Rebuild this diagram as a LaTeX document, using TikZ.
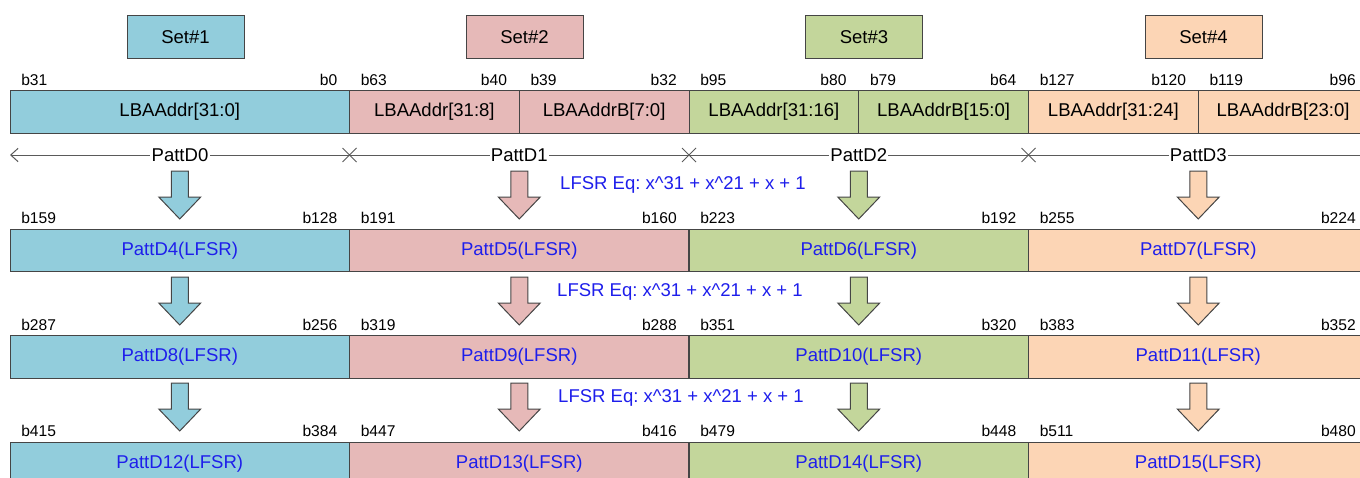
\documentclass[tikz,border=0pt]{standalone}
\usepackage{fontspec}
\setmainfont{Liberation Sans}
\usetikzlibrary{arrows.meta}
\definecolor{cblue}{HTML}{92CDDC}
\definecolor{cpink}{HTML}{E6B9B8}
\definecolor{cgreen}{HTML}{C3D69B}
\definecolor{corange}{HTML}{FCD5B5}
\definecolor{edgec}{HTML}{454545}
\definecolor{dimc}{HTML}{5A5A5A}
\definecolor{ltext}{RGB}{30,30,235}
\newcommand\mainfs{\fontsize{13.9pt}{16pt}\selectfont}
\newcommand\lblfs{\fontsize{11.7pt}{14pt}\selectfont}
\newcommand\blockarrow[3]{%
  \draw[arrowshape, fill=#3] (#1-8.5,#2) -- (#1+8.5,#2) -- (#1+8.5,#2+26) -- (#1+21,#2+26)
    -- (#1,#2+48) -- (#1-21,#2+26) -- (#1-8.5,#2+26) -- cycle;}
\frenchspacing
\begin{document}
\begin{tikzpicture}[x=0.75pt,y=-0.75pt,
  cellbox/.style={draw=edgec, line width=0.75pt, fill=#1, minimum height=31.9pt,
    minimum width=254.6pt, inner sep=0pt, outer sep=0pt, font=\mainfs},
  halfbox/.style={cellbox=#1, minimum width=127.3pt},
  setbox/.style={draw=edgec, line width=0.75pt, fill=#1, minimum height=32.25pt,
    minimum width=87.75pt, inner sep=0pt, font=\mainfs},
  bitlbl/.style={font=\lblfs, inner sep=0pt, text=black},
  arrowshape/.style={draw=edgec, line width=0.75pt, line join=miter},
  dimline/.style={draw=dimc, line width=0.75pt},
  dimlbl/.style={font=\mainfs, fill=white, inner sep=1pt, text=black},
  eqlbl/.style={font=\mainfs, text=ltext, inner sep=0pt}]
\useasboundingbox (0,0) rectangle (1360,478);
\clip (0,0) rectangle (1360,478);

% Set boxes
\node[setbox=cblue]   (s1) at (185.5,37.5)  {Set\#1};
\node[setbox=cpink]   (s2) at (524.5,37.5)  {Set\#2};
\node[setbox=cgreen]  (s3) at (864,37.5)    {Set\#3};
\node[setbox=corange] (s4) at (1203.5,37.5) {Set\#4};

% Top row
\node[cellbox=cblue]   (t1)  at (179.75,112)  {LBAAddr[31:0]};
\node[halfbox=cpink]   (t2a) at (434.375,112) {LBAAddr[31:8]};
\node[halfbox=cpink]   (t2b) at (604.125,112) {LBAAddrB[7:0]};
\node[halfbox=cgreen]  (t3a) at (773.875,112) {LBAAddr[31:16]};
\node[halfbox=cgreen]  (t3b) at (943.625,112) {LBAAddrB[15:0]};
\node[halfbox=corange] (t4a) at (1113.375,112) {LBAAddr[31:24]};
\node[halfbox=corange] (t4b) at (1283.125,112) {LBAAddrB[23:0]};

% Top row bit labels
\foreach \n/\x in {b31/21, b63/360.5, b39/530.25, b95/700, b79/869.75, b127/1039.5, b119/1209.25}
  \node[bitlbl, anchor=west] (l\n) at (\x,80) {\n};
\foreach \n/\x in {b0/337.5, b40/507.25, b32/677, b80/846.75, b64/1016.5, b120/1186.25, b96/1356}
  \node[bitlbl, anchor=east] (l\n) at (\x,80) {\n};

% Dimension line
\coordinate (dL) at (10,155);
\coordinate (dX1) at (349.5,155);
\coordinate (dX2) at (689,155);
\coordinate (dX3) at (1028.5,155);
\coordinate (dR) at (1380,155);
\draw[dimline, {Straight Barb[length=5.5pt,width=10pt]}-] (dL) -- (dR);
\foreach \p in {dX1,dX2,dX3}
  \draw[dimline] (\p) +(-7,-7) -- +(7,7) (\p) +(-7,7) -- +(7,-7);
\node[dimlbl] (pd0) at (180,155) {PattD0};
\node[dimlbl] (pd1) at (519.25,155) {PattD1};
\node[dimlbl] (pd2) at (858.75,155) {PattD2};
\node[dimlbl] (pd3) at (1198.25,155) {PattD3};

% Block arrows
\foreach \k in {0,1,2} {
  \foreach \c/\col in {0/cblue,1/cpink,2/cgreen,3/corange} {
    \pgfmathsetmacro\xc{179.75+339.5*\c}
    \pgfmathsetmacro\ya{171+106*\k}
    \blockarrow{\xc}{\ya}{\col}
  }
}

% LFSR rows
\foreach \k in {1,2,3} {
  \foreach \c/\col in {0/cblue,1/cpink,2/cgreen,3/corange} {
    \pgfmathsetmacro\xc{179.75+339.5*\c}
    \pgfmathsetmacro\yc{250.5+106.5*(\k-1)}
    \pgfmathtruncatemacro\lo{128*\k+32*\c}
    \pgfmathtruncatemacro\hi{\lo+31}
    \pgfmathtruncatemacro\di{4*\k+\c}
    \node[cellbox=\col, text=ltext] (p\di) at (\xc,\yc) {PattD\di(LFSR)};
    \node[bitlbl, anchor=west] (bh\di) at (\xc-169.75+11,\yc-32.25) {b\hi};
    \node[bitlbl, anchor=east] (bl\di) at (\xc+169.75-12,\yc-32.25) {b\lo};
  }
}

% LFSR equations
\node[eqlbl] (eq1) at (683,185) {LFSR Eq: x\^{}31 + x\^{}21 + x + 1};
\node[eqlbl] (eq2) at (680,292) {LFSR Eq: x\^{}31 + x\^{}21 + x + 1};
\node[eqlbl] (eq3) at (681,398) {LFSR Eq: x\^{}31 + x\^{}21 + x + 1};
\end{tikzpicture}
\end{document}
